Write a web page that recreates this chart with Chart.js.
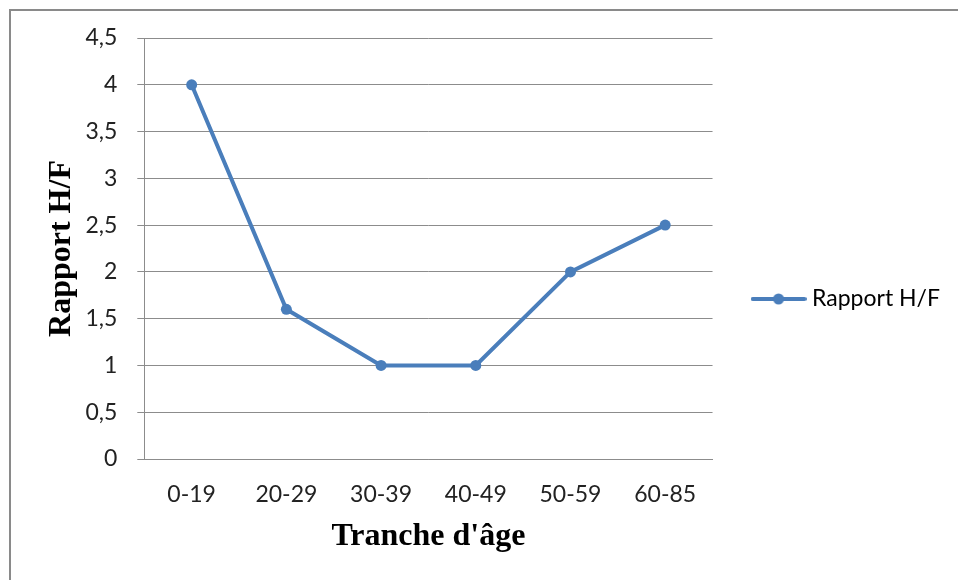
<!DOCTYPE html>
<html>
<head>
<meta charset="utf-8">
<script src="https://cdn.jsdelivr.net/npm/chart.js@4.4.0/dist/chart.umd.min.js"></script>
<style>
  body { margin: 0; background: #fff; }
  #wrap { width: 958px; height: 580px; position: relative; }
</style>
</head>
<body>
<div id="wrap"><canvas id="myLineChart"></canvas></div>
<script>
// data
var ageGroups = ["0-19", "20-29", "30-39", "40-49", "50-59", "60-85"];
var ratioValues = [4, 1.6, 1, 1, 2, 2.5];
var seriesName = "Rapport H/F";
var yTitle = "Rapport H/F";
var xTitle = "Tranche d'âge";

var blue = '#4a7ebb';
var gridGray = '#8c8c8c';

// little line + dot for the legend, like Excel
var legendMark = document.createElement('canvas');
legendMark.width = 56;
legendMark.height = 14;
var lm = legendMark.getContext('2d');
lm.strokeStyle = blue;
lm.lineWidth = 4;
lm.lineCap = 'round';
lm.beginPath();
lm.moveTo(2, 7);
lm.lineTo(54, 7);
lm.stroke();
lm.fillStyle = blue;
lm.beginPath();
lm.arc(28, 7, 5.5, 0, Math.PI * 2);
lm.fill();

// grey frame around the chart
var frame = {
    id: 'frame',
    beforeDraw: function (chart) {
        var c = chart.ctx;
        c.save();
        c.fillStyle = '#fff';
        c.fillRect(0, 0, chart.width, chart.height);
        c.strokeStyle = '#8a8a8a';
        c.lineWidth = 2;
        c.strokeRect(10, 10, chart.width + 20, chart.height + 20);
        c.restore();
    }
};

var ctx = document.getElementById("myLineChart").getContext('2d');
var myLineChart = new Chart(ctx, {
    type: 'line',
    data: {
        labels: ageGroups,
        datasets: [{
            label: seriesName,
            data: ratioValues,
            borderColor: blue,
            backgroundColor: blue,
            borderWidth: 4,
            pointRadius: 5.5,
            pointHoverRadius: 5.5,
            pointBackgroundColor: blue,
            pointBorderWidth: 0,
            tension: 0,
            fill: false
        }]
    },
    options: {
        responsive: true,
        maintainAspectRatio: false,
        animation: false,
        layout: {
            padding: { left: 37, right: 8, top: 38, bottom: 20 }
        },
        plugins: {
            tooltip: { enabled: false },
            legend: {
                position: 'right',
                maxWidth: 300,
                labels: {
                    usePointStyle: true,
                    pointStyleWidth: 44,
                    color: '#222',
                    font: { family: 'Lato', size: 23 },
                    padding: 44,
                    generateLabels: function (chart) {
                        return [{
                            text: seriesName,
                            pointStyle: legendMark,
                            fillStyle: blue,
                            strokeStyle: blue,
                            lineWidth: 0,
                            datasetIndex: 0
                        }];
                    }
                }
            }
        },
        scales: {
            x: {
                offset: true,
                grid: { display: false, drawTicks: false },
                border: { display: true, color: gridGray, width: 1 },
                ticks: {
                    color: '#222',
                    font: { family: 'Lato', size: 23 },
                    padding: 22
                },
                title: {
                    display: true,
                    text: xTitle,
                    color: '#000',
                    font: { family: 'Liberation Serif', size: 32, weight: 'bold' },
                    padding: { top: -13, bottom: 4 }
                }
            },
            y: {
                min: 0,
                max: 4.5,
                grid: {
                    color: gridGray,
                    lineWidth: 1,
                    drawTicks: true,
                    tickLength: 7,
                    tickColor: gridGray
                },
                border: { display: true, color: gridGray, width: 1 },
                ticks: {
                    stepSize: 0.5,
                    color: '#222',
                    font: { family: 'Lato', size: 23 },
                    padding: 20,
                    callback: function (v) {
                        return String(v).replace('.', ',');
                    }
                },
                title: {
                    display: true,
                    text: yTitle,
                    color: '#000',
                    font: { family: 'Liberation Serif', size: 32, weight: 'bold' },
                    padding: { top: 6, bottom: -16 }
                }
            }
        }
    },
    plugins: [frame]
});
</script>
</body>
</html>
